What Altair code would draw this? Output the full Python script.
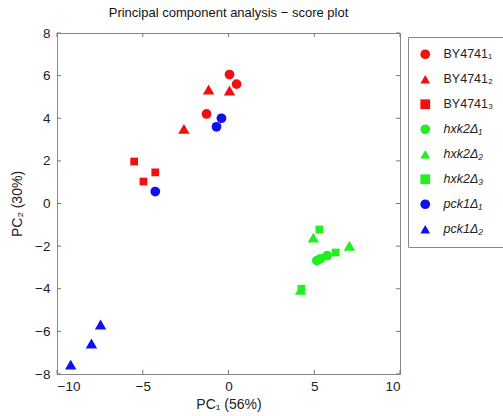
import altair as alt
import pandas as pd

FONT = "Liberation Sans, Arial, Helvetica, sans-serif"

series = ["BY4741₁", "BY4741₂", "BY4741₃", "hxk2Δ₁", "hxk2Δ₂", "hxk2Δ₃", "pck1Δ₁", "pck1Δ₂"]
colors = ["#f01010", "#f01010", "#f01010", "#22ee22", "#22ee22", "#22ee22", "#1010ee", "#1010ee"]
shapes = ["circle", "triangle-up", "square", "circle", "triangle-up", "square", "circle", "triangle-up"]
sizes = [95, 130, 60, 95, 130, 60, 95, 130]

pc1 = {
    "BY4741₁": [0.06, 0.47, -1.28],
    "BY4741₂": [-1.16, 0.06, -2.6],
    "BY4741₃": [-5.5, -4.96, -4.27],
    "hxk2Δ₁": [5.15, 5.35, 5.75],
    "hxk2Δ₂": [4.95, 7.05, 4.2],
    "hxk2Δ₃": [5.3, 6.25, 4.25],
    "pck1Δ₁": [-0.7, -0.41, -4.27],
    "pck1Δ₂": [-9.2, -7.99, -7.46],
}
pc2 = {
    "BY4741₁": [6.05, 5.6, 4.2],
    "BY4741₂": [5.35, 5.3, 3.5],
    "BY4741₃": [1.97, 1.03, 1.46],
    "hxk2Δ₁": [-2.68, -2.6, -2.45],
    "hxk2Δ₂": [-1.6, -1.98, -4.05],
    "hxk2Δ₃": [-1.22, -2.3, -4.0],
    "pck1Δ₁": [3.6, 4.0, 0.56],
    "pck1Δ₂": [-7.56, -6.57, -5.68],
}

x_ticks = [-10, -5, 0, 5, 10]
y_ticks = [-8, -6, -4, -2, 0, 2, 4, 6, 8]

rows = []
for s, sz in zip(series, sizes):
    for a, b in zip(pc1[s], pc2[s]):
        rows.append({"series": s, "pc1": a, "pc2": b, "sz": sz})
df = pd.DataFrame(rows)

W, H = 343, 341
TL = 4

xs = alt.Scale(domain=[-10, 10], nice=False, zero=False)
ys = alt.Scale(domain=[-8, 8], nice=False, zero=False)

points = alt.Chart(df).mark_point(filled=True, opacity=1).encode(
    x=alt.X("pc1:Q", scale=xs, title="PC₁ (56%)",
            axis=alt.Axis(values=x_ticks, ticks=False, labelPadding=5, titlePadding=5, grid=False)),
    y=alt.Y("pc2:Q", scale=ys, title="PC₂ (30%)",
            axis=alt.Axis(values=y_ticks, ticks=False, labelPadding=7, titlePadding=10, grid=False)),
    color=alt.Color("series:N", scale=alt.Scale(domain=series, range=colors),
                    legend=alt.Legend(title=None, orient="none", legendX=W + 8, legendY=4, padding=11,
                                      strokeColor="#888", labelFontSize=12.5, labelOffset=12,
                                      rowPadding=12, symbolSize=95, labelFont=FONT,
                                      labelFontStyle={"expr": "test(/BY/, datum.label) ? 'normal' : 'italic'"},
                                      symbolStrokeWidth=0, symbolOpacity=1)),
    shape=alt.Shape("series:N", scale=alt.Scale(domain=series, range=shapes), legend=alt.Legend(title=None)),
    size=alt.Size("sz:Q", scale=None, legend=None),
)

xt = pd.DataFrame({"t": x_ticks})
yt = pd.DataFrame({"t": y_ticks})
tick_col = "#777"
xt_bot = alt.Chart(xt).mark_rule(color=tick_col).encode(x=alt.X("t:Q", scale=xs), y=alt.value(H - TL), y2=alt.value(H))
xt_top = alt.Chart(xt).mark_rule(color=tick_col).encode(x=alt.X("t:Q", scale=xs), y=alt.value(0), y2=alt.value(TL))
yt_left = alt.Chart(yt).mark_rule(color=tick_col).encode(y=alt.Y("t:Q", scale=ys), x=alt.value(0), x2=alt.value(TL))
yt_right = alt.Chart(yt).mark_rule(color=tick_col).encode(y=alt.Y("t:Q", scale=ys), x=alt.value(W - TL), x2=alt.value(W))

chart = alt.layer(xt_bot, xt_top, yt_left, yt_right, points).properties(
    width=W, height=H,
    title=alt.TitleParams("Principal component analysis − score plot", fontSize=13, fontWeight="normal",
                          font=FONT, color="#111", anchor="middle", offset=6),
    autosize=alt.AutoSizeParams(type="none"),
    padding={"left": 57, "top": 33, "right": 103, "bottom": 42},
).configure_view(stroke="#888", strokeWidth=1).configure_axis(
    domainColor="#888", labelFont=FONT, titleFont=FONT, labelFontSize=13.5, titleFontSize=14,
    labelColor="#222", titleColor="#222", titleFontWeight="normal",
).configure_legend(labelColor="#222")

chart.save("out.html", embed_options={"renderer": "svg", "actions": False})
